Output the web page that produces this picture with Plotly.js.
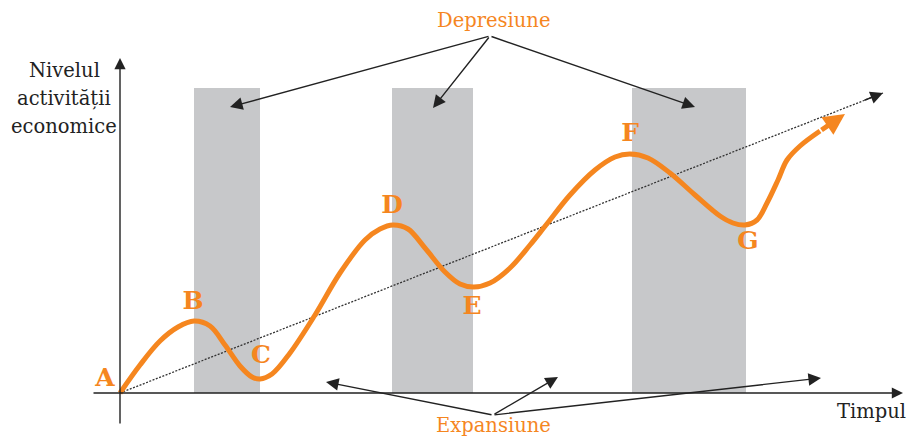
<!DOCTYPE html>
<html>
<head>
<meta charset="utf-8">
<script src="https://cdn.plot.ly/plotly-3.0.1.min.js"></script>
<style>html,body{margin:0;padding:0;background:#fff;}#chart{width:906px;height:438px;}</style>
</head>
<body>
<div id="chart"></div>
<script>
// Economic activity curve (time, level) — origin A at (0,0)
const curveX = [0, 20, 40, 58, 74, 90, 105, 120, 132, 140, 152, 170, 195, 220, 245, 260, 273, 288, 305, 325, 340, 354, 370, 390, 410, 426, 450, 475, 495, 510, 528, 550, 575, 600, 613, 625, 637, 647, 658, 667, 680, 700];
const curveY = [0, 28, 52, 66, 72, 67, 48, 27, 16, 14, 19, 40, 78, 120, 153, 164, 168, 164, 145, 121, 109, 106, 110, 125, 148, 168, 198, 223, 236, 239, 235, 220, 198, 177, 170, 168, 173, 190, 213, 233, 247, 262];
const arrowTip = [725, 279];

// Point labels
const pointNames = ["A", "B", "C", "D", "E", "F", "G"];
const pointX = [-15, 73, 141, 272, 352, 510, 628];
const pointY = [13, 90, 36, 186, 85, 258, 150];

// Depression (recession) bands
const bandStart = [74, 272, 512];
const bandEnd = [140, 353, 626];
const bandTop = 305;

// Trend line
const trendX = [0, 763];
const trendY = [0, 300];

// Axes
const axisXFrom = -28, axisXTo = 783;
const axisYFrom = -32, axisYTo = 335;

// Callout texts and arrow targets
const depText = "Depresiune";
const depOrigin = [370, 357];
const depTargets = [[110, 286], [313, 285], [575, 286]];
const expText = "Expansiune";
const expOrigin = [373, -22];
const expTargets = [[206, 11], [438, 16], [701, 15]];
const yTitle = ["Nivelul", "activității", "economice"];
const xTitle = "Timpul";

const orange = "#f5861f";
const gray = "#c7c8ca";
const serif = "DejaVu Serif";

const bandCenters = bandStart.map((s, i) => (s + bandEnd[i]) / 2);
const bandWidths = bandStart.map((s, i) => bandEnd[i] - s);

const traces = [
  {type: "bar", x: bandCenters, y: bandCenters.map(() => bandTop), width: bandWidths, base: 0,
   marker: {color: gray, line: {width: 0}}, hoverinfo: "skip"},
  {type: "scatter", mode: "lines", x: trendX, y: trendY,
   line: {color: "#333", width: 1.3, dash: "2px,1.5px"}, hoverinfo: "skip"},
  {type: "scatter", mode: "lines", x: curveX, y: curveY,
   line: {color: orange, width: 5, shape: "spline", smoothing: 1}, hoverinfo: "skip"},
  {type: "scatter", mode: "text", x: pointX, y: pointY, text: pointNames,
   textfont: {family: serif, size: 25, color: orange, weight: "bold"}, hoverinfo: "skip"}
];

const ann = [];
function arrow(from, to, color, width, size, head) {
  ann.push({x: to[0], y: to[1], ax: from[0], ay: from[1], xref: "x", yref: "y", axref: "x", ayref: "y",
    text: "", showarrow: true, arrowhead: head || 2, arrowsize: size, arrowwidth: width, arrowcolor: color});
}
arrow([axisXFrom, 0], [axisXTo, 0], "#222", 1.4, 1.6);
arrow([0, axisYFrom], [0, axisYTo], "#222", 1.4, 1.6);
arrow([trendX[1] - 20, trendY[1] - 20 * trendY[1] / trendX[1]], [trendX[1], trendY[1]], "#222", 1.4, 1.8);
arrow([curveX[curveX.length - 1], curveY[curveY.length - 1]], arrowTip, orange, 5, 0.85);
depTargets.forEach(t => arrow(depOrigin, t, "#222", 1.4, 1.8));
expTargets.forEach(t => arrow(expOrigin, t, "#222", 1.4, 1.8));

ann.push({x: depOrigin[0] + 3, y: depOrigin[1] + 16, xref: "x", yref: "y", text: depText, showarrow: false,
  font: {family: serif, size: 19.5, color: orange}});
ann.push({x: expOrigin[0], y: expOrigin[1] - 10, xref: "x", yref: "y", text: expText, showarrow: false,
  font: {family: serif, size: 19.5, color: orange}});
ann.push({x: 715, y: -18, xref: "x", yref: "y", xanchor: "left", text: xTitle, showarrow: false,
  font: {family: serif, size: 19.5, color: "#222"}});
yTitle.forEach((t, i) => ann.push({x: -56, y: 323 - 28 * i, xref: "x", yref: "y", text: t, showarrow: false,
  font: {family: serif, size: 19.5, color: "#222"}}));

const layout = {
  width: 906, height: 438,
  margin: {l: 0, r: 0, t: 0, b: 0},
  paper_bgcolor: "#fff", plot_bgcolor: "#fff",
  showlegend: false,
  xaxis: {range: [-120, 786], visible: false, fixedrange: true},
  yaxis: {range: [-45, 393], visible: false, fixedrange: true},
  annotations: ann,
  bargap: 0
};
Plotly.newPlot("chart", traces, layout, {staticPlot: true, displayModeBar: false});
</script>
</body>
</html>
